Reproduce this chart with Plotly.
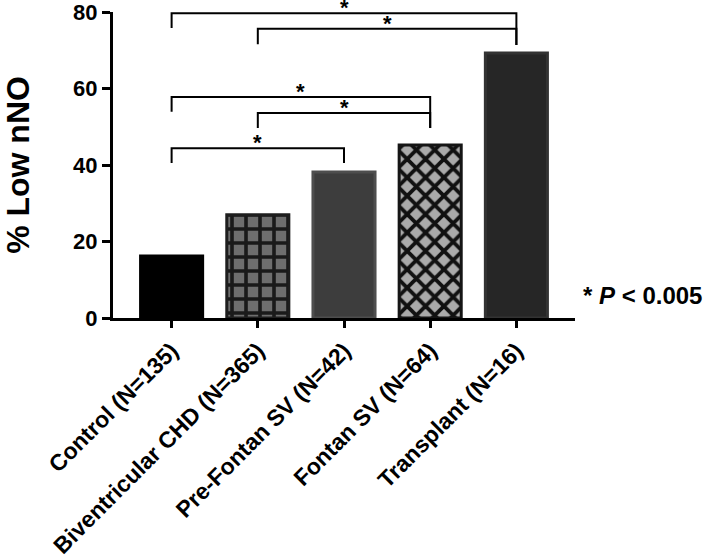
import plotly.graph_objects as go

categories = ["Control (N=135)", "Biventricular CHD (N=365)", "Pre-Fontan SV (N=42)",
              "Fontan SV (N=64)", "Transplant (N=16)"]
values = [16.2, 27.0, 38.2, 45.2, 69.3]

# significance brackets: (left index, right index, bar level, left drop end, right drop end)
brackets = [
    (0, 4, 79.7, 75.8, 71.4),
    (1, 4, 75.6, 71.6, 71.4),
    (0, 3, 57.8, 53.9, 49.7),
    (1, 3, 53.6, 49.7, 49.7),
    (0, 2, 44.4, 40.5, 40.5),
]
star_label = "*"
note_text = "* <i>P</i> &lt; 0.005"

FONT = "Arial, Liberation Sans, sans-serif"

fill_colors = ["#000000", "#6e6e6e", "#3d3d3d", "#aaaaaa", "#262626"]
line_colors = ["#000000", "#1e1e1e", "#4e4e4e", "#151515", "#333333"]
pattern_shapes = ["", "+", "", "x", ""]
pattern_fg = ["#000000", "#1a1a1a", "#3d3d3d", "#111111", "#262626"]
pattern_size = [8, 14, 8, 13, 8]
pattern_solid = [0.3, 0.45, 0.3, 0.5, 0.3]

fig = go.Figure()
for i, (cat, v) in enumerate(zip(categories, values)):
    pat = dict(shape=pattern_shapes[i], fgcolor=pattern_fg[i], bgcolor=fill_colors[i],
               size=pattern_size[i], solidity=pattern_solid[i], fillmode="replace")
    fig.add_trace(go.Bar(
        x=[i], y=[v], width=0.72, name=cat,
        marker=dict(color=fill_colors[i], line=dict(color=line_colors[i], width=3),
                    pattern=pat),
        showlegend=False,
    ))

for (a, b, lvl, la, rb) in brackets:
    fig.add_trace(go.Scatter(
        x=[a, a, b, b], y=[la, lvl, lvl, rb], mode="lines",
        line=dict(color="black", width=2), showlegend=False, cliponaxis=False,
        hoverinfo="skip",
    ))
    fig.add_annotation(x=(a + b) / 2, y=lvl, text=star_label, showarrow=False,
                       yanchor="bottom", yshift=-9,
                       font=dict(family=FONT, size=22, color="black", weight="bold"))

fig.add_annotation(xref="paper", yref="paper", x=1.012, y=0.072, xanchor="left",
                   yanchor="middle", text=note_text, showarrow=False,
                   font=dict(family=FONT, size=24, color="black", weight="bold"))

fig.update_layout(
    width=709, height=556,
    margin=dict(l=113, r=134, t=12, b=238),
    plot_bgcolor="white", paper_bgcolor="white",
    font=dict(family=FONT, color="black"),
    barmode="overlay",
)
fig.update_xaxes(
    range=[-0.68, 4.68], tickmode="array", tickvals=list(range(len(categories))),
    ticktext=categories, tickangle=-45, automargin=False,
    tickfont=dict(family=FONT, size=23, weight="bold"),
    showline=True, linecolor="black", linewidth=3, ticks="outside", ticklen=7,
    tickwidth=3, tickcolor="black", showgrid=False, zeroline=False,
)
fig.update_yaxes(
    range=[0, 80], tickvals=[0, 20, 40, 60, 80], automargin=False,
    ticklabeloverflow="allow",
    tickfont=dict(family=FONT, size=22, weight="bold"),
    showline=True, linecolor="black", linewidth=3, ticks="outside", ticklen=8,
    tickwidth=3, tickcolor="black", showgrid=False, zeroline=False,
    title=dict(text="% Low nNO", font=dict(family=FONT, size=32, weight="bold"),
               standoff=40),
)

fig.write_html("out.html", config={"displayModeBar": False},
               post_script="document.body.style.margin='0';")
